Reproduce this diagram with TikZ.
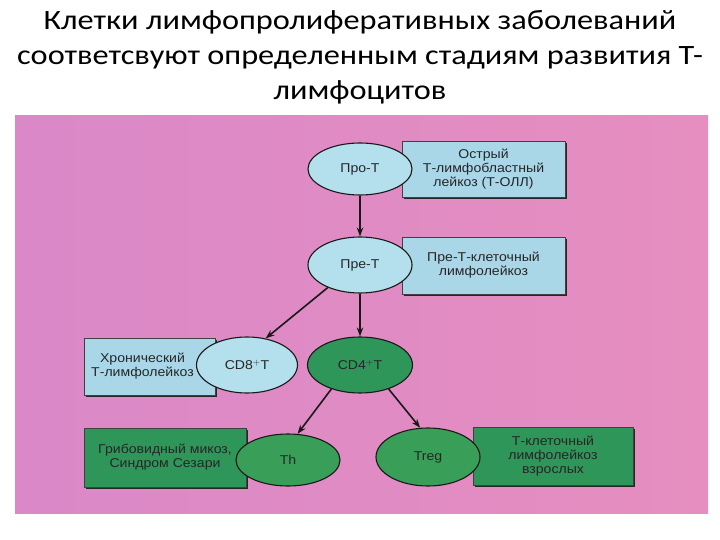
\documentclass[tikz,border=0pt]{standalone}
\usepackage{fontspec}
\setmainfont{Carlito}
\newfontfamily\titlefont[FakeStretch=1.155]{Carlito}
\newfontfamily\diafont[FakeStretch=1.1]{Liberation Sans}
\usetikzlibrary{arrows.meta,shapes.geometric,shadows}
\definecolor{bgpink}{HTML}{E68EC0}
\definecolor{bgmag}{HTML}{DA88C8}
\definecolor{lblue}{HTML}{A9D7E8}
\definecolor{eblue}{HTML}{B4DFEC}
\definecolor{dgreen}{HTML}{2E9658}
\definecolor{egreen}{HTML}{389E58}
\tikzset{
  cell/.style={draw=black!90,line width=1.1pt,ellipse,minimum width=104pt,minimum height=54pt,
               inner sep=0pt,font=\diafont\fontsize{12.8}{14}\selectfont,text=black!85},
  dis/.style={draw=black!75,line width=0.6pt,rectangle,align=center,inner sep=0pt,
              font=\diafont\fontsize{12.8}{14}\selectfont,text=black!85,
              drop shadow={shadow xshift=2.2pt,shadow yshift=-2.2pt,fill=black!85,opacity=1}},
  arr/.style={-{Stealth[length=9pt,width=6.5pt]},line width=1.6pt,black!90},
}
\begin{document}
\begin{tikzpicture}[x=1pt,y=-1pt]
\useasboundingbox (0,0) rectangle (720,540);
\fill[white] (0,0) rectangle (720,540);
\node[font=\titlefont\fontsize{28}{35}\selectfont,align=center] (title) at (360,57)
 {Клетки лимфопролиферативных заболеваний\\соответсвуют определенным стадиям развития Т-\\лимфоцитов};
\shade[left color=bgmag,right color=bgpink] (15,116) rectangle (708,513);
% diseases
\node[dis,fill=lblue,minimum width=163pt,minimum height=56pt] (toll) at (483.5,169)
 {Острый\\Т-лимфобластный\\лейкоз (Т-ОЛЛ)};
\node[dis,fill=lblue,minimum width=163pt,minimum height=57pt] (pretl) at (483.5,265.5)
 {Пре-Т-клеточный\\лимфолейкоз};
\node[dis,fill=lblue,minimum width=131pt,minimum height=57pt] (hron) at (149.5,366.5)
 {\begin{tabular}{@{}c@{}}Хронический\\Т-лимфолейкоз\end{tabular}\hspace*{14pt}};
\node[dis,fill=dgreen,minimum width=162pt,minimum height=59pt] (mic) at (165,457.5)
 {Грибовидный микоз,\\Синдром Сезари};
\node[dis,fill=dgreen,minimum width=160pt,minimum height=58pt] (atl) at (553,456)
 {Т-клеточный\\лимфолейкоз\\взрослых};
% stages
\node[cell,fill=eblue,minimum height=52pt] (prot) at (360,169) {Про-Т};
\node[cell,fill=eblue,minimum height=56pt] (pret) at (360,265) {Пре-Т};
\node[cell,fill=eblue,minimum width=101pt,minimum height=56pt] (cd8) at (247,365) {CD8$^+$T};
\node[cell,fill=dgreen,minimum width=105pt,minimum height=56pt] (cd4) at (360,365) {CD4$^+$T};
\node[cell,fill=egreen,minimum height=52pt] (th) at (288,460) {Th};
\node[cell,fill=egreen,minimum height=58pt] (treg) at (428,457) {Treg};
\draw[arr] (prot.south) -- (pret.north);
\draw[arr] (pret.215) -- (cd8.55);
\draw[arr] (pret.south) -- (cd4.north);
\draw[arr] (cd4.220) -- (th.70);
\draw[arr] (cd4.320) -- (treg.105);
\end{tikzpicture}
\end{document}
